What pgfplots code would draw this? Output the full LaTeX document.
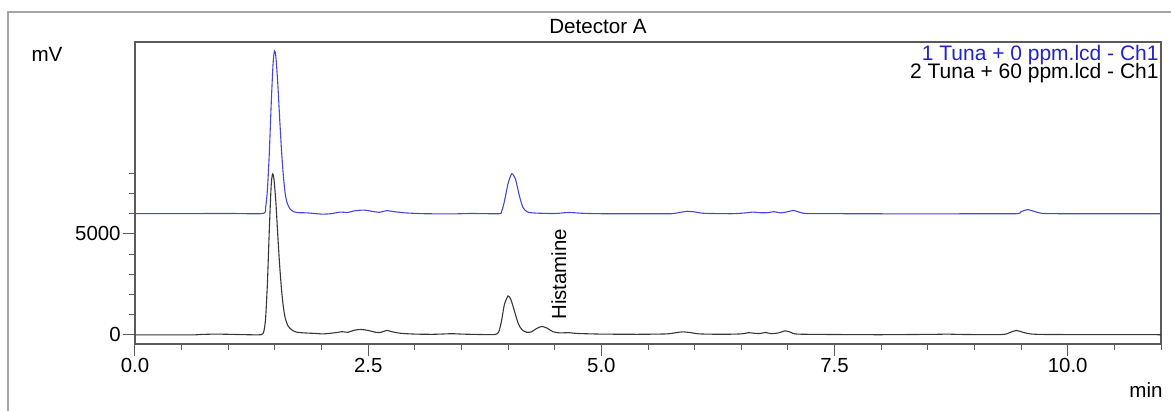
\documentclass[border=0pt]{standalone}
\usepackage{fontspec}
\setmainfont{Liberation Sans}
\usepackage{pgfplots}
\pgfplotsset{compat=1.18}

\definecolor{traceblue}{RGB}{70,70,215}
\definecolor{legblue}{RGB}{35,35,200}
\definecolor{traceblack}{RGB}{55,55,55}
\definecolor{framegray}{RGB}{165,165,165}
\definecolor{axisgray}{RGB}{90,90,90}

\begin{document}
\begin{tikzpicture}
% picture = 1171 x 411 px, 1 px = 0.5pt, origin at the axis' lower left corner
\useasboundingbox (-67.5pt,-33.5pt) rectangle (518pt,172pt);
\draw[framegray, line width=0.8pt] (-63.5pt,-40pt) -- (-63.5pt,166pt) -- (530pt,166pt);

\begin{axis}[
    at={(0pt,0pt)}, anchor=south west,
    scale only axis,
    width=513pt, height=151pt,
    xmin=0, xmax=11,
    ymin=-450, ymax=14500,
    axis line style={axisgray, line width=0.6pt},
    tick align=outside,
    xtick pos=bottom, ytick pos=left,
    tick style={axisgray, line width=0.5pt},
    major tick length=6pt,
    minor tick length=3pt,
    xtick={0,2.5,5,7.5,10},
    minor xtick={0.5,1,1.5,2,3,3.5,4,4.5,5.5,6,6.5,7,8,8.5,9,9.5,10.5,11},
    ytick={0,5000},
    minor ytick={1000,2000,3000,4000,6000,7000,8000},
    scaled y ticks=false,
    xticklabel style={/pgf/number format/fixed, /pgf/number format/fixed zerofill, /pgf/number format/precision=1},
    yticklabel style={/pgf/number format/1000 sep={}},
    ticklabel style={font=\fontsize{10.2}{12}\selectfont, inner sep=1pt},
    /pgf/number format/assume math mode=true,
    clip=false,
]
% 2 Tuna + 60 ppm
\addplot[traceblack, line width=0.55pt, smooth, tension=0.4] coordinates {
(0.00,0) (0.60,0) (0.70,20) (0.85,40) (1.00,30) (1.20,10) (1.35,10)
(1.38,150) (1.40,800) (1.42,2600) (1.44,5200) (1.46,7400) (1.475,7970)
(1.49,7700) (1.51,6600) (1.53,5000) (1.55,3500) (1.57,2300) (1.59,1400)
(1.61,850) (1.64,450) (1.68,250) (1.72,150) (1.78,110) (1.85,90)
(1.95,70) (2.00,50) (2.05,60) (2.15,110) (2.22,160) (2.28,130)
(2.35,230) (2.42,270) (2.50,220) (2.58,130) (2.63,120) (2.70,220)
(2.76,150) (2.85,80) (3.00,40) (3.20,30) (3.40,60) (3.50,40) (3.70,20)
(3.86,20) (3.90,150) (3.93,700) (3.96,1500) (4.00,1930) (4.03,1750)
(4.07,1150) (4.11,550) (4.15,250) (4.20,130) (4.25,150) (4.30,300)
(4.36,420) (4.42,330) (4.48,160) (4.55,100) (4.65,110) (4.75,70)
(5.00,40) (5.40,30) (5.70,50) (5.80,110) (5.87,150) (5.95,120)
(6.05,50) (6.30,30) (6.50,50) (6.58,110) (6.64,80) (6.70,70)
(6.76,120) (6.82,60) (6.90,100) (6.97,200) (7.03,130) (7.10,40)
(7.50,20) (8.00,10) (8.60,30) (8.70,40) (8.90,20) (9.30,20)
(9.38,120) (9.45,220) (9.52,130) (9.60,50) (9.80,20) (11.0,10)
};
% 1 Tuna + 0 ppm
\addplot[traceblue, line width=0.55pt, smooth, tension=0.4] coordinates {
(0.00,6000) (1.00,6010) (1.37,6010) (1.40,6300) (1.42,7200) (1.44,9000)
(1.46,11400) (1.48,13400) (1.495,14060) (1.51,13800) (1.53,12500)
(1.55,10800) (1.57,9200) (1.59,7900) (1.61,7000) (1.63,6550) (1.66,6250)
(1.70,6100) (1.76,6050) (1.85,6040) (2.00,5980) (2.10,6000) (2.20,6080)
(2.28,6060) (2.35,6140) (2.45,6180) (2.55,6110) (2.62,6070) (2.70,6150)
(2.78,6100) (2.90,6040) (3.10,6000) (3.40,5990) (3.60,6010) (3.90,6000)
(3.93,6100) (3.96,6600) (4.00,7500) (4.04,7980) (4.08,7700) (4.12,6900)
(4.16,6300) (4.21,6080) (4.30,6030) (4.50,6010) (4.65,6060) (4.80,6020)
(5.00,6000) (5.50,6000) (5.75,6000) (5.85,6070) (5.92,6120) (6.00,6090)
(6.10,6020) (6.40,6000) (6.55,6040) (6.62,6080) (6.70,6050) (6.78,6050)
(6.85,6100) (6.92,6040) (6.99,6090) (7.06,6160) (7.12,6080) (7.20,6010)
(7.60,6000) (8.60,5990) (9.00,6000) (9.45,6000) (9.50,6100) (9.57,6200)
(9.65,6100) (9.72,6020) (9.90,6000) (11.0,6000)
};
\node[rotate=90, anchor=west, inner sep=0pt, font=\fontsize{10.2}{12}\selectfont]
    at (axis cs:4.545,740) {Histamine};
\end{axis}

\node[anchor=base, font=\fontsize{10.3}{12}\selectfont] at (231.5pt,155pt) {Detector A};
\node[anchor=base east, inner sep=0pt, font=\fontsize{10.5}{12}\selectfont, text=legblue] at (512pt,141.5pt) {1 Tuna + 0 ppm.lcd - Ch1};
\node[anchor=base east, inner sep=0pt, font=\fontsize{10.5}{12}\selectfont] at (512pt,132.5pt) {2 Tuna + 60 ppm.lcd - Ch1};
\node[anchor=base, inner sep=0pt, font=\fontsize{10.3}{12}\selectfont] at (-44pt,141pt) {mV};
\node[anchor=base, inner sep=0pt, font=\fontsize{10.3}{12}\selectfont] at (505.5pt,-27pt) {min};
\end{tikzpicture}
\end{document}
